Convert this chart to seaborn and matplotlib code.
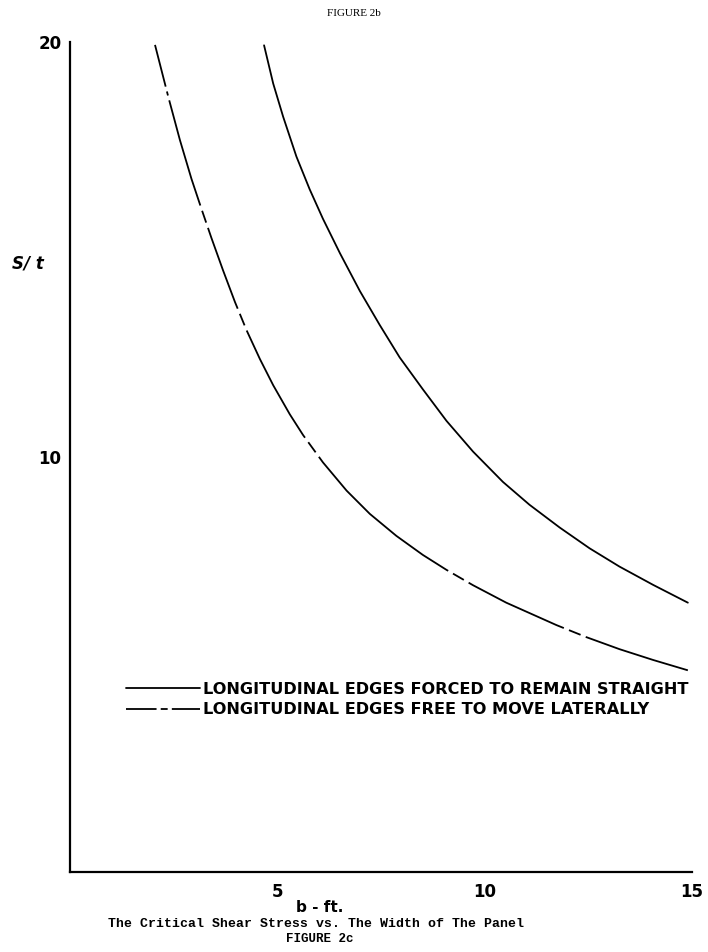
import matplotlib
matplotlib.use("Agg")
import matplotlib.pyplot as plt
import seaborn as sns
import pandas as pd
from matplotlib.lines import Line2D

# ---- data ----
b_straight = [4.68, 4.90, 5.14, 5.46, 5.78, 6.10, 6.51, 6.99, 7.47, 7.95, 8.51, 9.08,
              9.72, 10.44, 11.08, 11.81, 12.53, 13.25, 14.06, 14.90]
s_straight = [19.92, 19.00, 18.20, 17.24, 16.45, 15.74, 14.91, 14.00, 13.18, 12.40, 11.63, 10.87,
              10.13, 9.40, 8.85, 8.30, 7.80, 7.36, 6.92, 6.49]

b_free = [2.05, 2.37, 2.65, 2.93, 3.17, 3.41, 3.69, 3.98, 4.26, 4.58, 4.90, 5.30, 5.62,
          6.10, 6.67, 7.23, 7.87, 8.51, 9.08, 9.72, 10.52, 11.73, 12.45, 13.25, 14.06, 14.90]
s_free = [19.93, 18.68, 17.64, 16.70, 15.98, 15.28, 14.50, 13.73, 13.05, 12.36, 11.73, 11.03, 10.53,
          9.87, 9.19, 8.63, 8.10, 7.64, 7.28, 6.91, 6.49, 5.95, 5.66, 5.37, 5.11, 4.86]

label_straight = "LONGITUDINAL EDGES FORCED TO REMAIN STRAIGHT"
label_free = "LONGITUDINAL EDGES FREE TO MOVE LATERALLY"

x_ticks = [5, 10, 15]
y_ticks = [10, 20]

sns.set_theme(style="white")
plt.rcParams['font.family'] = ['DejaVu Sans']
plt.rcParams['lines.scale_dashes'] = False
plt.rcParams['text.color'] = 'black'
plt.rcParams['xtick.color'] = 'black'
plt.rcParams['ytick.color'] = 'black'

fig = plt.figure(figsize=(7.08, 9.52), dpi=100)
ax = fig.add_axes([70/708, 80/952, 622/708, 830/952])

df_s = pd.DataFrame({"b": b_straight, "S": s_straight})
df_f = pd.DataFrame({"b": b_free, "S": s_free})

free_dash = (0, (31, 3.6, 3, 3.6, 79, 4, 9, 4, 62, 4, 9, 4, 88, 4, 9, 4,
                 125, 4, 9, 4, 76, 4, 9, 4, 200, 4))

sns.lineplot(data=df_s, x="b", y="S", ax=ax, color="black", lw=1.3)
sns.lineplot(data=df_f, x="b", y="S", ax=ax, color="black", lw=1.3,
             linestyle=free_dash)

ax.set_xlim(0, 15)
ax.set_ylim(0, 20)
ax.set_xticks(x_ticks)
ax.set_yticks(y_ticks)
ax.set_xticklabels([str(v) for v in x_ticks], fontsize=12, fontweight="bold", color="black")
ax.set_yticklabels([str(v) for v in y_ticks], fontsize=12, fontweight="bold", color="black")
ax.tick_params(axis="both", direction="in", length=5, width=1.5, color="black", pad=6)
ax.tick_params(axis="x", pad=8)

for side in ["top", "right"]:
    ax.spines[side].set_visible(False)
for side in ["left", "bottom"]:
    ax.spines[side].set_color("black")
    ax.spines[side].set_linewidth(1.6)

ax.set_xlabel("")
ax.set_ylabel("")

handles = [Line2D([], [], color="black", lw=1.3),
           Line2D([], [], color="black", lw=1.3, linestyle=(0, (22, 3, 5, 3)))]
leg = ax.legend(handles, [label_straight, label_free], loc="upper left",
                bbox_to_anchor=(0.08, 0.237), frameon=False,
                prop={"size": 11.6, "weight": "bold"}, handlelength=4.6,
                handletextpad=0.15, labelspacing=0.35, borderaxespad=0)
for t in leg.get_texts():
    t.set_color("black")

# texts around the chart
fig.text(12/708, 1 - 263/952, "S/ t", fontsize=12, fontweight="bold",
         fontstyle="italic", ha="left", va="center")
fig.text(354/708, 1 - 14/952, "FIGURE 2b", fontsize=8, family="Liberation Serif",
         ha="center", va="center")
fig.text(320/708, 1 - 908/952, "b - ft.", fontsize=11, fontweight="bold",
         ha="center", va="center")
fig.text(316/708, 1 - 924/952, "The Critical Shear Stress vs. The Width of The Panel",
         fontsize=9.5, family="Liberation Mono", fontweight="bold",
         ha="center", va="center")
fig.text(320/708, 1 - 939/952, "FIGURE 2c", fontsize=9, family="Liberation Mono",
         fontweight="bold", ha="center", va="center")

fig.savefig("out.png", dpi=100)
